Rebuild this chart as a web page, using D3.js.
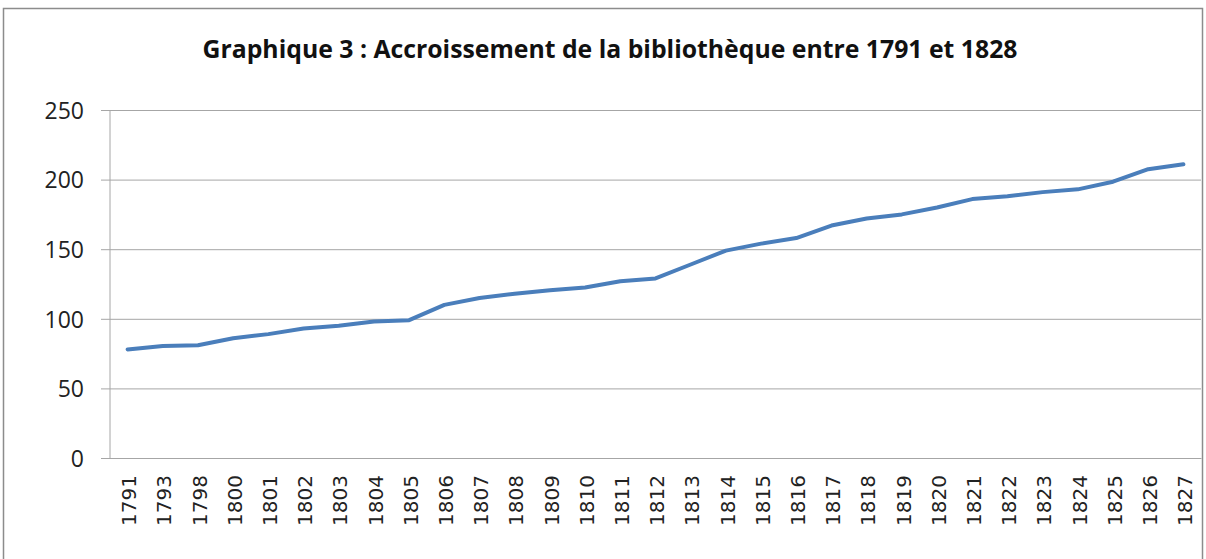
<!DOCTYPE html>
<html>
<head>
<meta charset="utf-8">
<script src="https://cdn.jsdelivr.net/npm/d3@7"></script>
<style>
body{margin:0;background:#fff;}
text{font-family:"Open Sans","DejaVu Sans",sans-serif;}
</style>
</head>
<body>
<svg id="chart" width="1206" height="559"></svg>
<script>
// données
var years = ["1791","1793","1798","1800","1801","1802","1803","1804","1805","1806","1807","1808","1809","1810","1811","1812","1813","1814","1815","1816","1817","1818","1819","1820","1821","1822","1823","1824","1825","1826","1827"];
var volumes = [78,80.5,81,86,89,93,95,98,99,110,115,118,120.5,122.5,127,129,139,149,154,158,167,172,175,180,186,188,191,193,198.5,207.5,211];
var yTicks = [0,50,100,150,200,250];

var svg = d3.select("#chart");
var margin = {left:110, right:5, top:110, bottom:101};
var W = 1206, H = 559;

// cadre
svg.append("rect").attr("x",3.5).attr("y",8.5).attr("width",1199).attr("height",560)
    .attr("fill","none").attr("stroke","#8c8c8c").attr("stroke-width",1.5);

svg.append("text").attr("x",610).attr("y",58).attr("text-anchor","middle")
    .attr("font-size",25).attr("font-weight","bold").attr("fill","#111")
    .attr("textLength",815).attr("lengthAdjust","spacingAndGlyphs")
    .text("Graphique 3 : Accroissement de la bibliothèque entre 1791 et 1828");

var x = d3.scalePoint().domain(years).range([margin.left, W - margin.right]).padding(0.5);
var y = d3.scaleLinear().domain([0,250]).range([H - margin.bottom, margin.top]);

// grille + axe Y
var gy = svg.append("g").attr("transform","translate(" + margin.left + ",0)")
    .call(d3.axisLeft(y).tickValues(yTicks).tickSize(-(W - margin.right - margin.left)).tickPadding(26));
gy.select(".domain").remove();
gy.selectAll(".tick line").attr("stroke","#a6a6a6").attr("x1",-9);
gy.selectAll(".tick text").attr("font-size",23).attr("fill","#222").attr("dy","0.36em")
    .style("font-family","'Open Sans',sans-serif");

svg.append("line").attr("x1",margin.left).attr("x2",margin.left)
    .attr("y1",margin.top).attr("y2",H - margin.bottom).attr("stroke","#a6a6a6");

// axe X
var gx = svg.append("g").attr("transform","translate(0," + (H - margin.bottom) + ")")
    .call(d3.axisBottom(x).tickSize(0).tickPadding(0));
gx.select(".domain").attr("stroke","#a6a6a6");
gx.selectAll(".tick text").attr("font-size",20).attr("fill","#222")
    .attr("transform","rotate(-90)").attr("text-anchor","end")
    .attr("x",-17).attr("y",1).attr("dy","0.36em")
    .style("font-family","'DejaVu Sans',sans-serif");

// courbe
var line = d3.line().x(function(d,i){return x(years[i]);}).y(function(d){return y(d);});
svg.append("path").datum(volumes).attr("d",line)
    .attr("fill","none").attr("stroke","#4a7ebb").attr("stroke-width",4)
    .attr("stroke-linejoin","round").attr("stroke-linecap","round");
</script>
</body>
</html>
